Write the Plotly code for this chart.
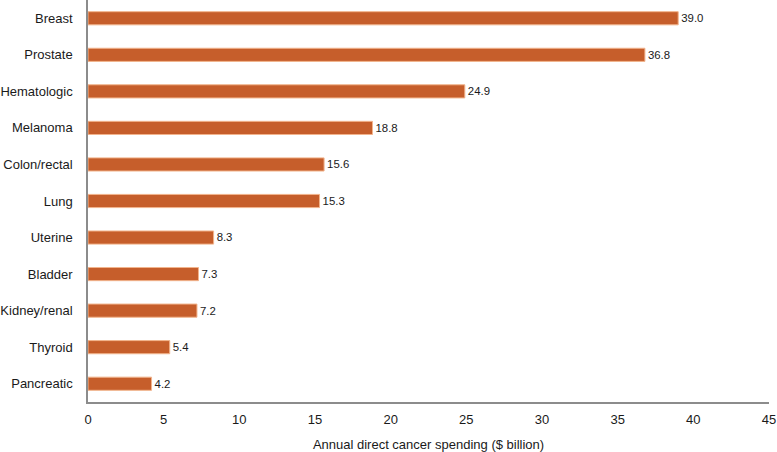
import plotly.graph_objects as go

cancers = ["Breast", "Prostate", "Hematologic", "Melanoma", "Colon/rectal", "Lung",
           "Uterine", "Bladder", "Kidney/renal", "Thyroid", "Pancreatic"]
spending = [39.0, 36.8, 24.9, 18.8, 15.6, 15.3, 8.3, 7.3, 7.2, 5.4, 4.2]
x_ticks = [0, 5, 10, 15, 20, 25, 30, 35, 40, 45]

fig = go.Figure()
fig.add_trace(go.Bar(
    x=spending, y=cancers, orientation="h",
    width=0.36,
    marker=dict(color="#C65E2B", line=dict(color="#F2B48C", width=1)),
    text=[f"{v:.1f}" for v in spending], textposition="outside",
    textfont=dict(color="#1a1a1a", size=13),
    cliponaxis=False, hoverinfo="skip",
))

fig.update_layout(
    width=777, height=452,
    margin=dict(l=88, r=8, t=0, b=50, autoexpand=False),
    plot_bgcolor="white", paper_bgcolor="white",
    font=dict(family="Liberation Sans, Arial, sans-serif", size=13, color="#1a1a1a"),
    showlegend=False,
    hovermode=False,
    bargap=0.6,
)
fig.update_xaxes(
    range=[0, 45], tickvals=x_ticks, showgrid=False, zeroline=False,
    showline=True, linecolor="#8c8c8c", linewidth=1.5,
    ticks="", ticklabelstandoff=5, automargin=False, fixedrange=True,
    title=dict(text="Annual direct cancer spending ($ billion)", standoff=14,
               font=dict(size=13)),
)
fig.update_yaxes(
    categoryorder="array", categoryarray=cancers, autorange="reversed",
    showgrid=False, zeroline=False, automargin=False, fixedrange=True,
    showline=True, linecolor="#8c8c8c", linewidth=1.5,
    ticks="", ticklabelstandoff=11,
)

# drop the browser's default page margin so the figure sits at the top-left corner
fig.write_html("out.html", config={"displayModeBar": False},
               post_script="document.body.style.margin='0';")
